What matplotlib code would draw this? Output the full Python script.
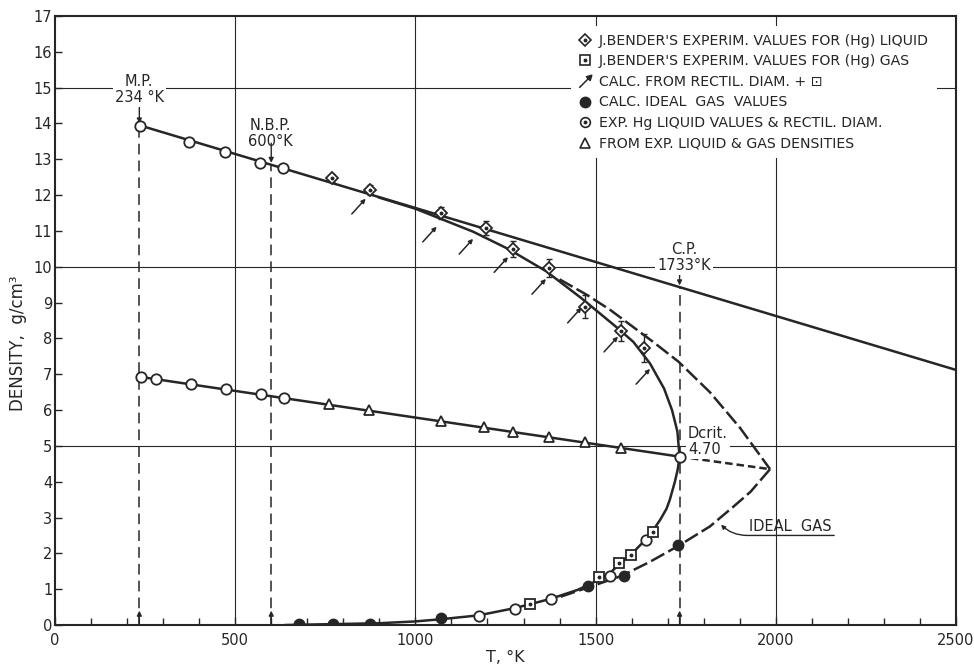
"""
Density of mercury, liquid and vapour, against temperature
(coexistence curve, rectilinear diameter and ideal gas line).
"""

import matplotlib
matplotlib.use('Agg')
import matplotlib.pyplot as plt
from matplotlib.lines import Line2D
from matplotlib.path import Path

INK = '#262626'
LINE_WIDTH = 1.8

# straight liquid line, M.P. to right edge
liquid_line_t = [234, 2500]
liquid_line_d = [13.95, 7.12]

# exp. Hg liquid values (open circles on the liquid line)
liquid_circle_t = [236, 373, 472, 569, 633]
liquid_circle_d = [13.94, 13.48, 13.20, 12.90, 12.77]

# J. Bender's liquid values with their error bars
bender_liq_t = [769, 874, 1071, 1196, 1271, 1371, 1471, 1570, 1634]
bender_liq_d = [12.48, 12.14, 11.50, 11.08, 10.50, 9.97, 8.88, 8.21, 7.73]
bender_liq_err = [0.12, 0.15, 0.18, 0.2, 0.22, 0.25, 0.32, 0.28, 0.4]

# calc. from rectil. diam. + gas (arrow tips)
calc_t = [862, 1059, 1160, 1257, 1362, 1461, 1562, 1651]
calc_d = [11.90, 11.12, 10.78, 10.27, 9.66, 8.86, 8.05, 7.15]

# J. Bender's gas values
bender_gas_t = [1318, 1509, 1566, 1597, 1658]
bender_gas_d = [0.59, 1.33, 1.74, 1.95, 2.59]

# open circles on the gas branch
gas_circle_t = [1176, 1275, 1375, 1540, 1640]
gas_circle_d = [0.26, 0.46, 0.72, 1.37, 2.37]

# calc. ideal gas values
ideal_t = [677, 772, 874, 1070, 1480, 1579, 1730]
ideal_d = [0.02, 0.03, 0.04, 0.20, 1.09, 1.37, 2.23]

# rectilinear diameter
diam_circle_t = [239, 280, 377, 474, 572, 635]
diam_circle_d = [6.93, 6.88, 6.74, 6.59, 6.45, 6.35]
diam_tri_t = [760, 870, 1070, 1190, 1270, 1370, 1470, 1570]
diam_tri_d = [6.16, 6.00, 5.70, 5.52, 5.40, 5.25, 5.10, 4.94]
diam_line_t = [234, 1733]
diam_line_d = [6.93, 4.70]
diam_ext_t = [1733, 1984]
diam_ext_d = [4.70, 4.35]

# solid coexistence curve: liquid side down to C.P., then gas side back down
coex_t = [900, 1000, 1060, 1160, 1257, 1362, 1461, 1562, 1605, 1651, 1690,
          1712, 1727, 1733, 1728, 1720, 1706, 1697, 1680, 1658, 1640, 1597,
          1568, 1540, 1512, 1480, 1450, 1375, 1318, 1275, 1176, 1070, 1000,
          900, 800, 640]
coex_d = [11.93, 11.62, 11.38, 10.98, 10.50, 9.88, 9.12, 8.28, 7.90, 7.30,
          6.60, 6.00, 5.40, 4.70, 4.35, 4.00, 3.50, 3.25, 2.95, 2.62, 2.40,
          1.95, 1.72, 1.45, 1.28, 1.12, 0.98, 0.73, 0.58, 0.47, 0.27, 0.16,
          0.10, 0.05, 0.03, 0.0]

# Bender extrapolation (dashed) to the turning point
bender_curve_t = [1400, 1475, 1540, 1600, 1660, 1730, 1817, 1901, 1984]
bender_curve_d = [9.65, 9.22, 8.80, 8.35, 7.90, 7.35, 6.50, 5.50, 4.35]

# ideal gas curve (dashed)
ideal_curve_t = [1984, 1930, 1882, 1817, 1730, 1650, 1572, 1480, 1400]
ideal_curve_d = [4.35, 3.72, 3.30, 2.75, 2.21, 1.76, 1.37, 1.05, 0.78]

# marked temperatures: M.P., N.B.P., C.P. and the density where each stops
mark_t = [234, 600, 1733]
mark_top_d = [13.95, 12.85, 9.43]

LABEL_FONT = dict(fontsize=10.5, color=INK)
WHITE_BOX = dict(facecolor='white', edgecolor='none', pad=1.5)


def arrow_marker():
    verts = [(-1, -1), (0.45, 0.45), (1, 1), (0.15, 0.75), (0.75, 0.15),
             (1, 1)]
    codes = [Path.MOVETO, Path.LINETO, Path.MOVETO, Path.LINETO,
             Path.LINETO, Path.CLOSEPOLY]
    return Path(verts, codes)


def draw_curves(ax):
    ax.plot(liquid_line_t, liquid_line_d, color=INK, lw=LINE_WIDTH, zorder=2)
    ax.plot(coex_t, coex_d, color=INK, lw=LINE_WIDTH, zorder=2)
    ax.plot(diam_line_t, diam_line_d, color=INK, lw=LINE_WIDTH, zorder=2)
    ax.plot(diam_ext_t, diam_ext_d, color=INK, lw=LINE_WIDTH,
            dashes=(3, 1.6), zorder=2)
    ax.plot(bender_curve_t, bender_curve_d, color=INK, lw=LINE_WIDTH,
            dashes=(6, 1.8), zorder=2)
    ax.plot(ideal_curve_t, ideal_curve_d, color=INK, lw=LINE_WIDTH,
            dashes=(6, 1.8), zorder=2)

    # vertical marker lines with arrows at both ends
    for t, top in zip(mark_t, mark_top_d):
        ax.plot([t, t], [0, top], color=INK, lw=1.1, dashes=(7, 4), zorder=1.5)
        ax.annotate('', xy=(t, 0.4), xytext=(t, 0.0),
                    arrowprops=dict(arrowstyle='-|>', color=INK, lw=1,
                                    mutation_scale=7, shrinkA=0, shrinkB=0))
        ax.annotate('', xy=(t, top + 0.05), xytext=(t, top + 0.6),
                    arrowprops=dict(arrowstyle='-|>', color=INK, lw=1,
                                    mutation_scale=7, shrinkA=0, shrinkB=0))


def draw_points(ax):
    open_m = dict(ls='none', mfc='white', mec=INK, mew=1.3, zorder=4)
    dot = dict(ls='none', marker='o', ms=1.8, color=INK, zorder=5)

    ax.plot(liquid_circle_t, liquid_circle_d, marker='o', ms=7.5, **open_m)
    ax.plot(gas_circle_t, gas_circle_d, marker='o', ms=7.5, **open_m)
    ax.plot(diam_circle_t, diam_circle_d, marker='o', ms=7.5, **open_m)
    ax.plot([1733], [4.70], marker='o', ms=7.5, **open_m)
    ax.plot(diam_tri_t, diam_tri_d, marker='^', ms=7.5, **open_m)

    ax.errorbar(bender_liq_t, bender_liq_d, yerr=bender_liq_err, fmt='none',
                ecolor=INK, elinewidth=1, capsize=2.5, capthick=1, zorder=3)
    ax.plot(bender_liq_t, bender_liq_d, marker='D', ms=6.5, **open_m)
    ax.plot(bender_liq_t, bender_liq_d, **dot)

    ax.plot(bender_gas_t, bender_gas_d, marker='s', ms=6.5, **open_m)
    ax.plot(bender_gas_t, bender_gas_d, **dot)

    ax.plot(ideal_t, ideal_d, ls='none', marker='o', ms=7.5, color=INK,
            zorder=4)

    for t, d in zip(calc_t, calc_d):
        ax.annotate('', xy=(t, d), xytext=(-10, -11), textcoords='offset points',
                    arrowprops=dict(arrowstyle='-|>', color=INK, lw=1.1,
                                    mutation_scale=6, shrinkA=0, shrinkB=0),
                    zorder=3)


def draw_labels(ax):
    ax.text(234, 14.95, 'M.P.\n234 °K', ha='center', va='center',
            linespacing=1.1, bbox=WHITE_BOX, zorder=3, **LABEL_FONT)
    ax.text(597, 13.72, 'N.B.P.\n600°K', ha='center', va='center',
            linespacing=1.1, zorder=3, **LABEL_FONT)
    ax.text(1745, 10.26, 'C.P.\n1733°K', ha='center', va='center',
            linespacing=1.1, bbox=WHITE_BOX, zorder=3, **LABEL_FONT)
    ax.text(1756, 5.12, 'Dcrit.\n4.70', ha='left', va='center',
            linespacing=1.1, bbox=WHITE_BOX, zorder=3, **LABEL_FONT)

    ax.text(1926, 2.55, 'IDEAL  GAS', ha='left', va='bottom', **LABEL_FONT)
    ax.annotate('', xy=(2162, 2.50), xytext=(1920, 2.50),
                arrowprops=dict(arrowstyle='-', color=INK, lw=1,
                                shrinkA=0, shrinkB=0))
    ax.annotate('', xy=(1848, 2.80), xytext=(1920, 2.50),
                arrowprops=dict(arrowstyle='-|>', color=INK, lw=1,
                                mutation_scale=6, shrinkA=0, shrinkB=0,
                                connectionstyle='arc3,rad=-0.2'))


def draw_legend(ax):
    open_m = dict(ls='none', mfc='white', mec=INK, mew=1.2)
    dot = Line2D([], [], ls='none', marker='o', ms=1.8, color=INK)
    handles = [
        (Line2D([], [], marker='D', ms=6.5, **open_m), dot),
        (Line2D([], [], marker='s', ms=6.5, **open_m), dot),
        Line2D([], [], ls='none', marker=arrow_marker(), ms=9, mfc=INK,
               mec=INK, mew=1.1),
        Line2D([], [], ls='none', marker='o', ms=7.5, color=INK),
        (Line2D([], [], marker='o', ms=7, **open_m), dot),
        Line2D([], [], marker='^', ms=7.5, **open_m),
    ]
    labels = [
        "J.BENDER'S EXPERIM. VALUES FOR (Hg) LIQUID",
        "J.BENDER'S EXPERIM. VALUES FOR (Hg) GAS",
        "CALC. FROM RECTIL. DIAM. + \u22a1",
        "CALC. IDEAL  GAS  VALUES",
        "EXP. Hg LIQUID VALUES & RECTIL. DIAM.",
        "FROM EXP. LIQUID & GAS DENSITIES",
    ]
    leg = ax.legend(handles, labels, loc='upper left',
                    bbox_to_anchor=(0.565, 0.995), fontsize=10.2,
                    frameon=True, facecolor='white', edgecolor='none',
                    framealpha=1, fancybox=False, handlelength=0.9,
                    handletextpad=0.5, labelspacing=0.46, borderpad=0.55)
    for text in leg.get_texts():
        text.set_color(INK)
    leg.set_zorder(6)


def configure_plot(ax):
    ax.set_xlim(0, 2500)
    ax.set_ylim(0, 17)
    ax.set_xticks(range(0, 2501, 500))
    ax.set_xticks(range(0, 2501, 100), minor=True)
    ax.set_yticks(range(0, 18))
    ax.tick_params(axis='both', which='both', direction='in', colors=INK,
                   width=1, labelsize=10.5, top=False, right=False)
    ax.tick_params(axis='x', which='major', length=6, pad=6)
    ax.tick_params(axis='x', which='minor', length=5)
    ax.tick_params(axis='y', length=5, pad=2)
    for spine in ax.spines.values():
        spine.set_linewidth(1.5)
        spine.set_color(INK)

    # grid every 500 K and every 5 g/cm3
    for t in [500, 1000, 1500, 2000]:
        ax.axvline(t, color=INK, lw=0.8, zorder=1)
    for d in [5, 10, 15]:
        ax.axhline(d, color=INK, lw=0.8, zorder=1)

    ax.set_xlabel('T, °K', fontsize=11.5, color=INK)
    ax.set_ylabel('DENSITY,  g/cm³', fontsize=12, color=INK)
    ax.xaxis.set_label_coords(0.5, -0.041)
    ax.yaxis.set_label_coords(-0.031, 0.463)


def start():
    fig = plt.figure(figsize=(9.74, 6.69), dpi=100)
    ax = fig.add_axes([55 / 974, 44 / 669, 901 / 974, 609 / 669])
    configure_plot(ax)
    draw_curves(ax)
    draw_points(ax)
    draw_labels(ax)
    draw_legend(ax)
    fig.savefig('out.png', dpi=100)


if __name__ == '__main__':
    start()
